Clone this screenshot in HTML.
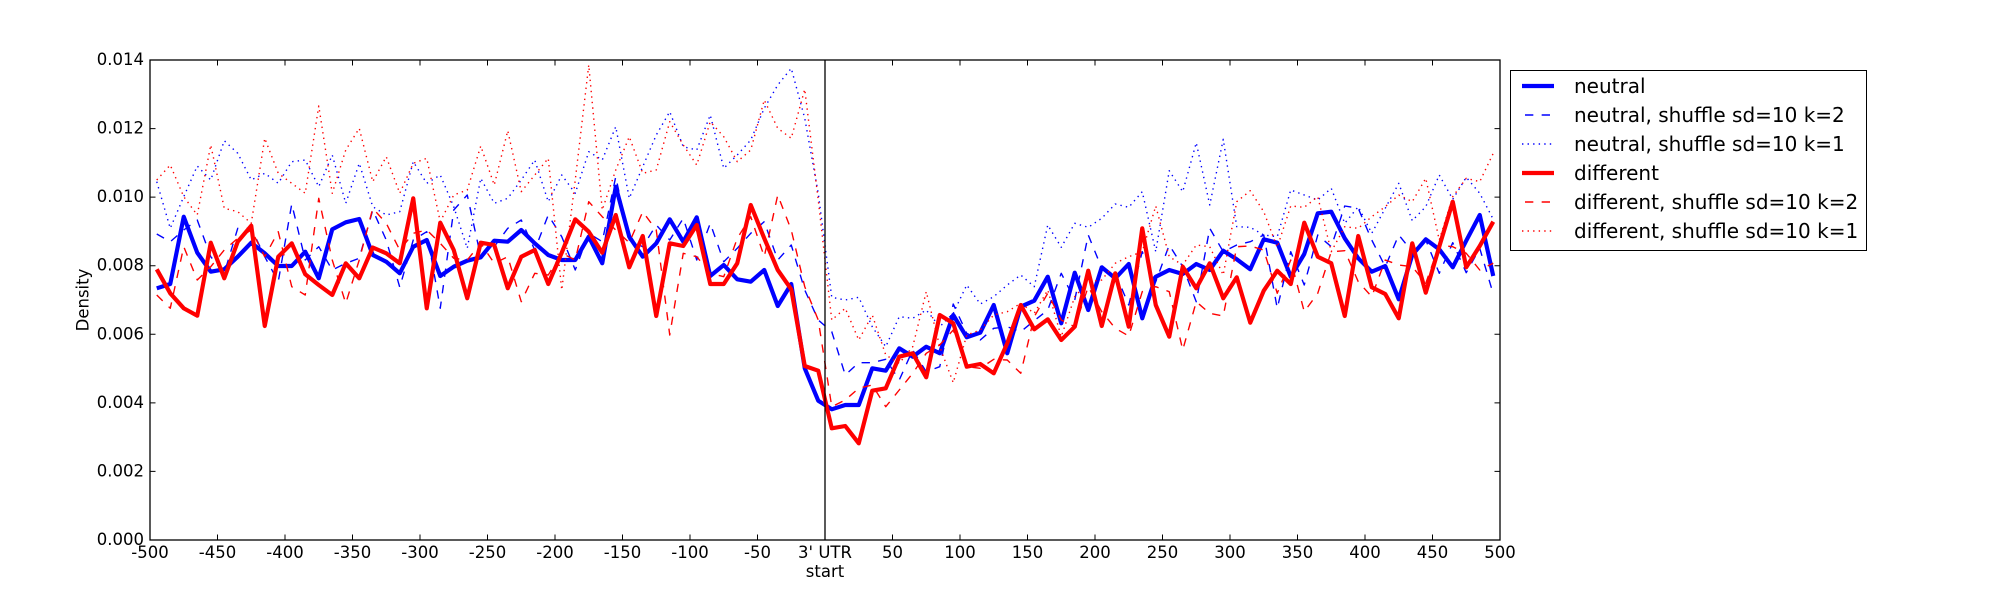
<!DOCTYPE html>
<html><head><meta charset="utf-8"><style>html,body{margin:0;padding:0;background:#fff}svg{display:block}</style></head>
<body>
<svg width="2000" height="600" viewBox="0 0 2000 600" xmlns="http://www.w3.org/2000/svg" font-family="'DejaVu Sans','Liberation Sans',sans-serif">
<rect width="2000" height="600" fill="#fff"/>
<defs><clipPath id="c"><rect x="150" y="60" width="1350" height="480"/></clipPath></defs>
<g clip-path="url(#c)" fill="none" stroke-linejoin="round">
<polyline stroke="#0000ff" stroke-width="4.17" points="156.75,288.3 170.25,284 183.75,216.7 197.25,252.7 210.75,271.7 224.25,269.3 237.75,256.7 251.25,242.7 264.75,253.3 278.25,266 291.75,266 305.25,251.7 318.75,278.3 332.25,229.3 345.75,222.3 359.25,219 372.75,255 386.25,261.7 399.75,273.3 413.25,246.7 426.75,240 440.25,276 453.75,266.7 467.25,260.7 480.75,257.3 494.25,240.7 507.75,241.7 521.25,230 534.75,243.3 548.25,255 561.75,260 575.25,260 588.75,236.7 602.25,263.3 615.75,186.7 629.25,236.7 642.75,256.7 656.25,243.3 669.75,219.3 683.25,241.7 696.75,217.3 710.25,276 723.75,265 737.25,279.3 750.75,281.7 764.25,270 777.75,306 791.25,284 804.75,368.3 818.25,400.7 831.75,409.3 845.25,405 858.75,405 872.25,368.3 885.75,370.7 899.25,348.3 912.75,356.7 926.25,346.7 939.75,353.3 953.25,315 966.75,337.3 980.25,332.7 993.75,305 1007.25,353.3 1020.75,306.7 1034.25,300.7 1047.75,276.7 1061.25,323.3 1074.75,272.7 1088.25,310 1101.75,267.3 1115.25,278.3 1128.75,264 1142.25,318.3 1155.75,276.7 1169.25,270 1182.75,274 1196.25,264 1209.75,270 1223.25,250.7 1236.75,259.3 1250.25,269.3 1263.75,239.3 1277.25,242.7 1290.75,276.7 1304.25,254 1317.75,213.3 1331.25,211.7 1344.75,238.3 1358.25,258.3 1371.75,271.7 1385.25,266 1398.75,299.3 1412.25,255 1425.75,239.3 1439.25,249.3 1452.75,267.3 1466.25,240.7 1479.75,215 1493.25,276"/>
<polyline stroke="#0000ff" stroke-width="1.39" stroke-dasharray="8.33 8.33" points="156.75,234 170.25,241.7 183.75,230 197.25,220 210.75,256.7 224.25,273.3 237.75,228.3 251.25,228.3 264.75,256.7 278.25,281.7 291.75,204 305.25,260 318.75,246.7 332.25,270 345.75,263.3 359.25,258.3 372.75,210 386.25,240 399.75,287.3 413.25,240 426.75,231.7 440.25,308.3 453.75,210 467.25,195 480.75,256.7 494.25,246.7 507.75,228.3 521.25,220 534.75,250 548.25,215 561.75,236.7 575.25,270 588.75,233.3 602.25,241.7 615.75,176.7 629.25,240 642.75,246.7 656.25,225 669.75,240 683.25,218.3 696.75,260 710.25,223.3 723.75,261.7 737.25,248.3 750.75,233.3 764.25,221.7 777.75,260 791.25,245 804.75,290 818.25,320 831.75,331.7 845.25,375 858.75,362.7 872.25,362.7 885.75,359.3 899.25,380 912.75,350 926.25,371.7 939.75,366.7 953.25,304 966.75,333.3 980.25,340 993.75,328.3 1007.25,326.7 1020.75,331.7 1034.25,320.7 1047.75,310 1061.25,273.3 1074.75,300 1088.25,235 1101.75,268.3 1115.25,273.3 1128.75,305 1142.25,251.7 1155.75,281.7 1169.25,245 1182.75,266.7 1196.25,301.7 1209.75,228.3 1223.25,251.7 1236.75,245 1250.25,241.7 1263.75,235 1277.25,308.3 1290.75,251.7 1304.25,285 1317.75,235 1331.25,246.7 1344.75,206 1358.25,208.3 1371.75,240 1385.25,266.7 1398.75,235 1412.25,251.7 1425.75,240 1439.25,273.3 1452.75,242.7 1466.25,272.7 1479.75,248.3 1493.25,294"/>
<polyline stroke="#0000ff" stroke-width="1.39" stroke-dasharray="1.39 4.17" points="156.75,181.7 170.25,228.3 183.75,196.7 197.25,166 210.75,180 224.25,140.7 237.75,153.3 251.25,180 264.75,173.3 278.25,183.3 291.75,161.7 305.25,160 318.75,186.7 332.25,155 345.75,203.3 359.25,163.3 372.75,206.7 386.25,215 399.75,211.7 413.25,161.7 426.75,183.3 440.25,175 453.75,206.7 467.25,248.3 480.75,178.3 494.25,203.3 507.75,198.3 521.25,180 534.75,160 548.25,201.7 561.75,175 575.25,193.3 588.75,151.7 602.25,160 615.75,126.7 629.25,198.3 642.75,166.7 656.25,135 669.75,111.7 683.25,146.7 696.75,150 710.25,115 723.75,168.3 737.25,155 750.75,140 764.25,108.3 777.75,85 791.25,68.3 804.75,118.3 818.25,193.3 831.75,297.3 845.25,300 858.75,297.3 872.25,326.7 885.75,346.7 899.25,316.7 912.75,318.3 926.25,310 939.75,326.7 953.25,313.3 966.75,285 980.25,304 993.75,296.7 1007.25,285 1020.75,275 1034.25,286.7 1047.75,225 1061.25,247.3 1074.75,223.3 1088.25,227.3 1101.75,218.3 1115.25,204 1128.75,207.3 1142.25,191.7 1155.75,251.7 1169.25,170.7 1182.75,191.7 1196.25,142.7 1209.75,205 1223.25,139.3 1236.75,226.7 1250.25,227.3 1263.75,235 1277.25,236.7 1290.75,190 1304.25,195 1317.75,200 1331.25,188.3 1344.75,223.3 1358.25,206.7 1371.75,233.3 1385.25,208.3 1398.75,183.3 1412.25,220.7 1425.75,206.7 1439.25,175 1452.75,199.3 1466.25,177.3 1479.75,193.3 1493.25,219.3"/>
<polyline stroke="#ff0000" stroke-width="4.17" points="156.75,269.3 170.25,293.3 183.75,308.3 197.25,315.7 210.75,242.7 224.25,278.3 237.75,241.7 251.25,225.7 264.75,326 278.25,256.7 291.75,243.3 305.25,274.3 318.75,285 332.25,295 345.75,263.3 359.25,278.3 372.75,247.5 386.25,253.3 399.75,263.3 413.25,198.3 426.75,308.3 440.25,222.7 453.75,250 467.25,298.3 480.75,242.7 494.25,245 507.75,288.3 521.25,256.7 534.75,250 548.25,284 561.75,252.7 575.25,219.3 588.75,231.7 602.25,252.7 615.75,215 629.25,267.3 642.75,236 656.25,316 669.75,243.3 683.25,246 696.75,225 710.25,284 723.75,284 737.25,263.3 750.75,205 764.25,238.3 777.75,270 791.25,289.3 804.75,366 818.25,370.7 831.75,428.3 845.25,426 858.75,443.3 872.25,390.7 885.75,388.3 899.25,356.7 912.75,353.3 926.25,377.3 939.75,315 953.25,323.3 966.75,366.7 980.25,364 993.75,373.3 1007.25,343.3 1020.75,305 1034.25,329.3 1047.75,319.3 1061.25,340 1074.75,326.7 1088.25,270.7 1101.75,326 1115.25,273.3 1128.75,326.7 1142.25,228.3 1155.75,305 1169.25,336.7 1182.75,266.7 1196.25,288.3 1209.75,263.3 1223.25,298.3 1236.75,277.3 1250.25,322.7 1263.75,290.7 1277.25,270.7 1290.75,284 1304.25,222.7 1317.75,256.7 1331.25,263.3 1344.75,316 1358.25,236 1371.75,287.3 1385.25,294 1398.75,318.3 1412.25,243.3 1425.75,292.7 1439.25,246.7 1452.75,201.7 1466.25,267.3 1479.75,246 1493.25,221.7"/>
<polyline stroke="#ff0000" stroke-width="1.39" stroke-dasharray="8.33 8.33" points="156.75,295 170.25,308.3 183.75,246.7 197.25,280 210.75,266.7 224.25,250 237.75,238.3 251.25,230 264.75,256.7 278.25,231.7 291.75,286.7 305.25,295 318.75,198.3 332.25,260 345.75,303.3 359.25,260 372.75,208.3 386.25,223.3 399.75,250 413.25,233.3 426.75,230 440.25,243.3 453.75,258.3 467.25,260 480.75,243.3 494.25,263.3 507.75,256.7 521.25,301.7 534.75,273.3 548.25,275 561.75,253.3 575.25,260 588.75,201.7 602.25,216.7 615.75,230 629.25,242.7 642.75,211.7 656.25,230 669.75,335 683.25,253.3 696.75,256.7 710.25,273.3 723.75,276.7 737.25,238.3 750.75,216.7 764.25,256.7 777.75,195 791.25,230 804.75,286.7 818.25,320 831.75,406.7 845.25,400 858.75,388.3 872.25,385 885.75,406.7 899.25,390 912.75,373.3 926.25,353.3 939.75,345 953.25,330 966.75,366.7 980.25,368.3 993.75,359.3 1007.25,360 1020.75,373.3 1034.25,316.7 1047.75,293.3 1061.25,320 1074.75,326.7 1088.25,286.7 1101.75,311.7 1115.25,328.3 1128.75,336 1142.25,291.7 1155.75,286.7 1169.25,291.7 1182.75,350 1196.25,301.7 1209.75,313.3 1223.25,316 1236.75,246.7 1250.25,246 1263.75,250 1277.25,293.3 1290.75,260 1304.25,311.7 1317.75,293.3 1331.25,251.7 1344.75,250.7 1358.25,281.7 1371.75,296.7 1385.25,260 1398.75,265 1412.25,266.7 1425.75,283.3 1439.25,245 1452.75,246.7 1466.25,253.3 1479.75,270 1493.25,263.3"/>
<polyline stroke="#ff0000" stroke-width="1.39" stroke-dasharray="1.39 4.17" points="156.75,180 170.25,165 183.75,196.7 197.25,215 210.75,145 224.25,208.3 237.75,211.7 251.25,223.3 264.75,138.3 278.25,173.3 291.75,183.3 305.25,193.3 318.75,106 332.25,193.3 345.75,150 359.25,128.3 372.75,181.7 386.25,156.7 399.75,193.3 413.25,163.3 426.75,158.3 440.25,221.7 453.75,195 467.25,190 480.75,146 494.25,185 507.75,130.7 521.25,191.7 534.75,175 548.25,158.3 561.75,290 575.25,180 588.75,65 602.25,210 615.75,170 629.25,136.7 642.75,173.3 656.25,170 669.75,121.7 683.25,145 696.75,165 710.25,121.7 723.75,136.7 737.25,161.7 750.75,150 764.25,100 777.75,128.3 791.25,138.3 804.75,89.3 818.25,200 831.75,320 845.25,308.3 858.75,340 872.25,315 885.75,355 899.25,363.3 912.75,346.7 926.25,291.7 939.75,346.7 953.25,382.7 966.75,335 980.25,330 993.75,315 1007.25,311.7 1020.75,303.3 1034.25,313.3 1047.75,290 1061.25,336.7 1074.75,296.7 1088.25,281.7 1101.75,280 1115.25,263.3 1128.75,256.7 1142.25,251.7 1155.75,206 1169.25,256.7 1182.75,265 1196.25,245 1209.75,246.7 1223.25,275 1236.75,201.7 1250.25,190.7 1263.75,211.7 1277.25,247.3 1290.75,206 1304.25,207.3 1317.75,196.7 1331.25,251.7 1344.75,226.7 1358.25,228.3 1371.75,216.7 1385.25,206.7 1398.75,195 1412.25,201.7 1425.75,178.3 1439.25,240 1452.75,196.7 1466.25,178.3 1479.75,181.7 1493.25,153.3"/>
</g>
<line x1="825" y1="60" x2="825" y2="540" stroke="#000" stroke-width="1.3"/>
<rect x="150" y="60" width="1350" height="480" fill="none" stroke="#000" stroke-width="1.3"/>
<path stroke="#000" stroke-width="1" fill="none" d="M150,540h5.5M150,471.43h5.5M150,402.86h5.5M150,334.29h5.5M150,265.71h5.5M150,197.14h5.5M150,128.57h5.5M150,60h5.5
M1500,540h-5.5M1500,471.43h-5.5M1500,402.86h-5.5M1500,334.29h-5.5M1500,265.71h-5.5M1500,197.14h-5.5M1500,128.57h-5.5M1500,60h-5.5
M150,540v-5.5M217.5,540v-5.5M285,540v-5.5M352.5,540v-5.5M420,540v-5.5M487.5,540v-5.5M555,540v-5.5M622.5,540v-5.5M690,540v-5.5M757.5,540v-5.5M825,540v-5.5M892.5,540v-5.5M960,540v-5.5M1027.5,540v-5.5M1095,540v-5.5M1162.5,540v-5.5M1230,540v-5.5M1297.5,540v-5.5M1365,540v-5.5M1432.5,540v-5.5M1500,540v-5.5
M150,60v5.5M217.5,60v5.5M285,60v5.5M352.5,60v5.5M420,60v5.5M487.5,60v5.5M555,60v5.5M622.5,60v5.5M690,60v5.5M757.5,60v5.5M825,60v5.5M892.5,60v5.5M960,60v5.5M1027.5,60v5.5M1095,60v5.5M1162.5,60v5.5M1230,60v5.5M1297.5,60v5.5M1365,60v5.5M1432.5,60v5.5M1500,60v5.5"/>
<g font-size="16.5" fill="#000" text-anchor="end">
<text x="144" y="545">0.000</text>
<text x="144" y="476.4">0.002</text>
<text x="144" y="407.9">0.004</text>
<text x="144" y="339.3">0.006</text>
<text x="144" y="270.7">0.008</text>
<text x="144" y="202.1">0.010</text>
<text x="144" y="133.6">0.012</text>
<text x="144" y="65">0.014</text>
</g>
<g font-size="16.5" fill="#000" text-anchor="middle">
<text x="150" y="558">-500</text>
<text x="217.5" y="558">-450</text>
<text x="285" y="558">-400</text>
<text x="352.5" y="558">-350</text>
<text x="420" y="558">-300</text>
<text x="487.5" y="558">-250</text>
<text x="555" y="558">-200</text>
<text x="622.5" y="558">-150</text>
<text x="690" y="558">-100</text>
<text x="757.5" y="558">-50</text>
<text x="825" y="558">3' UTR</text>
<text x="825" y="577">start</text>
<text x="892.5" y="558">50</text>
<text x="960" y="558">100</text>
<text x="1027.5" y="558">150</text>
<text x="1095" y="558">200</text>
<text x="1162.5" y="558">250</text>
<text x="1230" y="558">300</text>
<text x="1297.5" y="558">350</text>
<text x="1365" y="558">400</text>
<text x="1432.5" y="558">450</text>
<text x="1500" y="558">500</text>
<text transform="translate(88.5,300) rotate(-90)">Density</text>
</g>
<rect x="1510.5" y="70.5" width="356" height="180" fill="#fff" stroke="#000" stroke-width="1"/>
<g fill="none">
<line x1="1522" y1="86" x2="1554" y2="86" stroke="#0000ff" stroke-width="4.17"/>
<line x1="1522" y1="115" x2="1554" y2="115" stroke="#0000ff" stroke-width="1.39" stroke-dasharray="8.33 8.33" stroke-dashoffset="-3"/>
<line x1="1522" y1="144" x2="1554" y2="144" stroke="#0000ff" stroke-width="1.39" stroke-dasharray="1.39 4.17"/>
<line x1="1522" y1="173" x2="1554" y2="173" stroke="#ff0000" stroke-width="4.17"/>
<line x1="1522" y1="202" x2="1554" y2="202" stroke="#ff0000" stroke-width="1.39" stroke-dasharray="8.33 8.33" stroke-dashoffset="-3"/>
<line x1="1522" y1="231" x2="1554" y2="231" stroke="#ff0000" stroke-width="1.39" stroke-dasharray="1.39 4.17"/>
</g>
<g font-size="20" fill="#000">
<text x="1574" y="93">neutral</text>
<text x="1574" y="122">neutral, shuffle sd=10 k=2</text>
<text x="1574" y="151">neutral, shuffle sd=10 k=1</text>
<text x="1574" y="180">different</text>
<text x="1574" y="209">different, shuffle sd=10 k=2</text>
<text x="1574" y="238">different, shuffle sd=10 k=1</text>
</g>
</svg>
</body></html>
